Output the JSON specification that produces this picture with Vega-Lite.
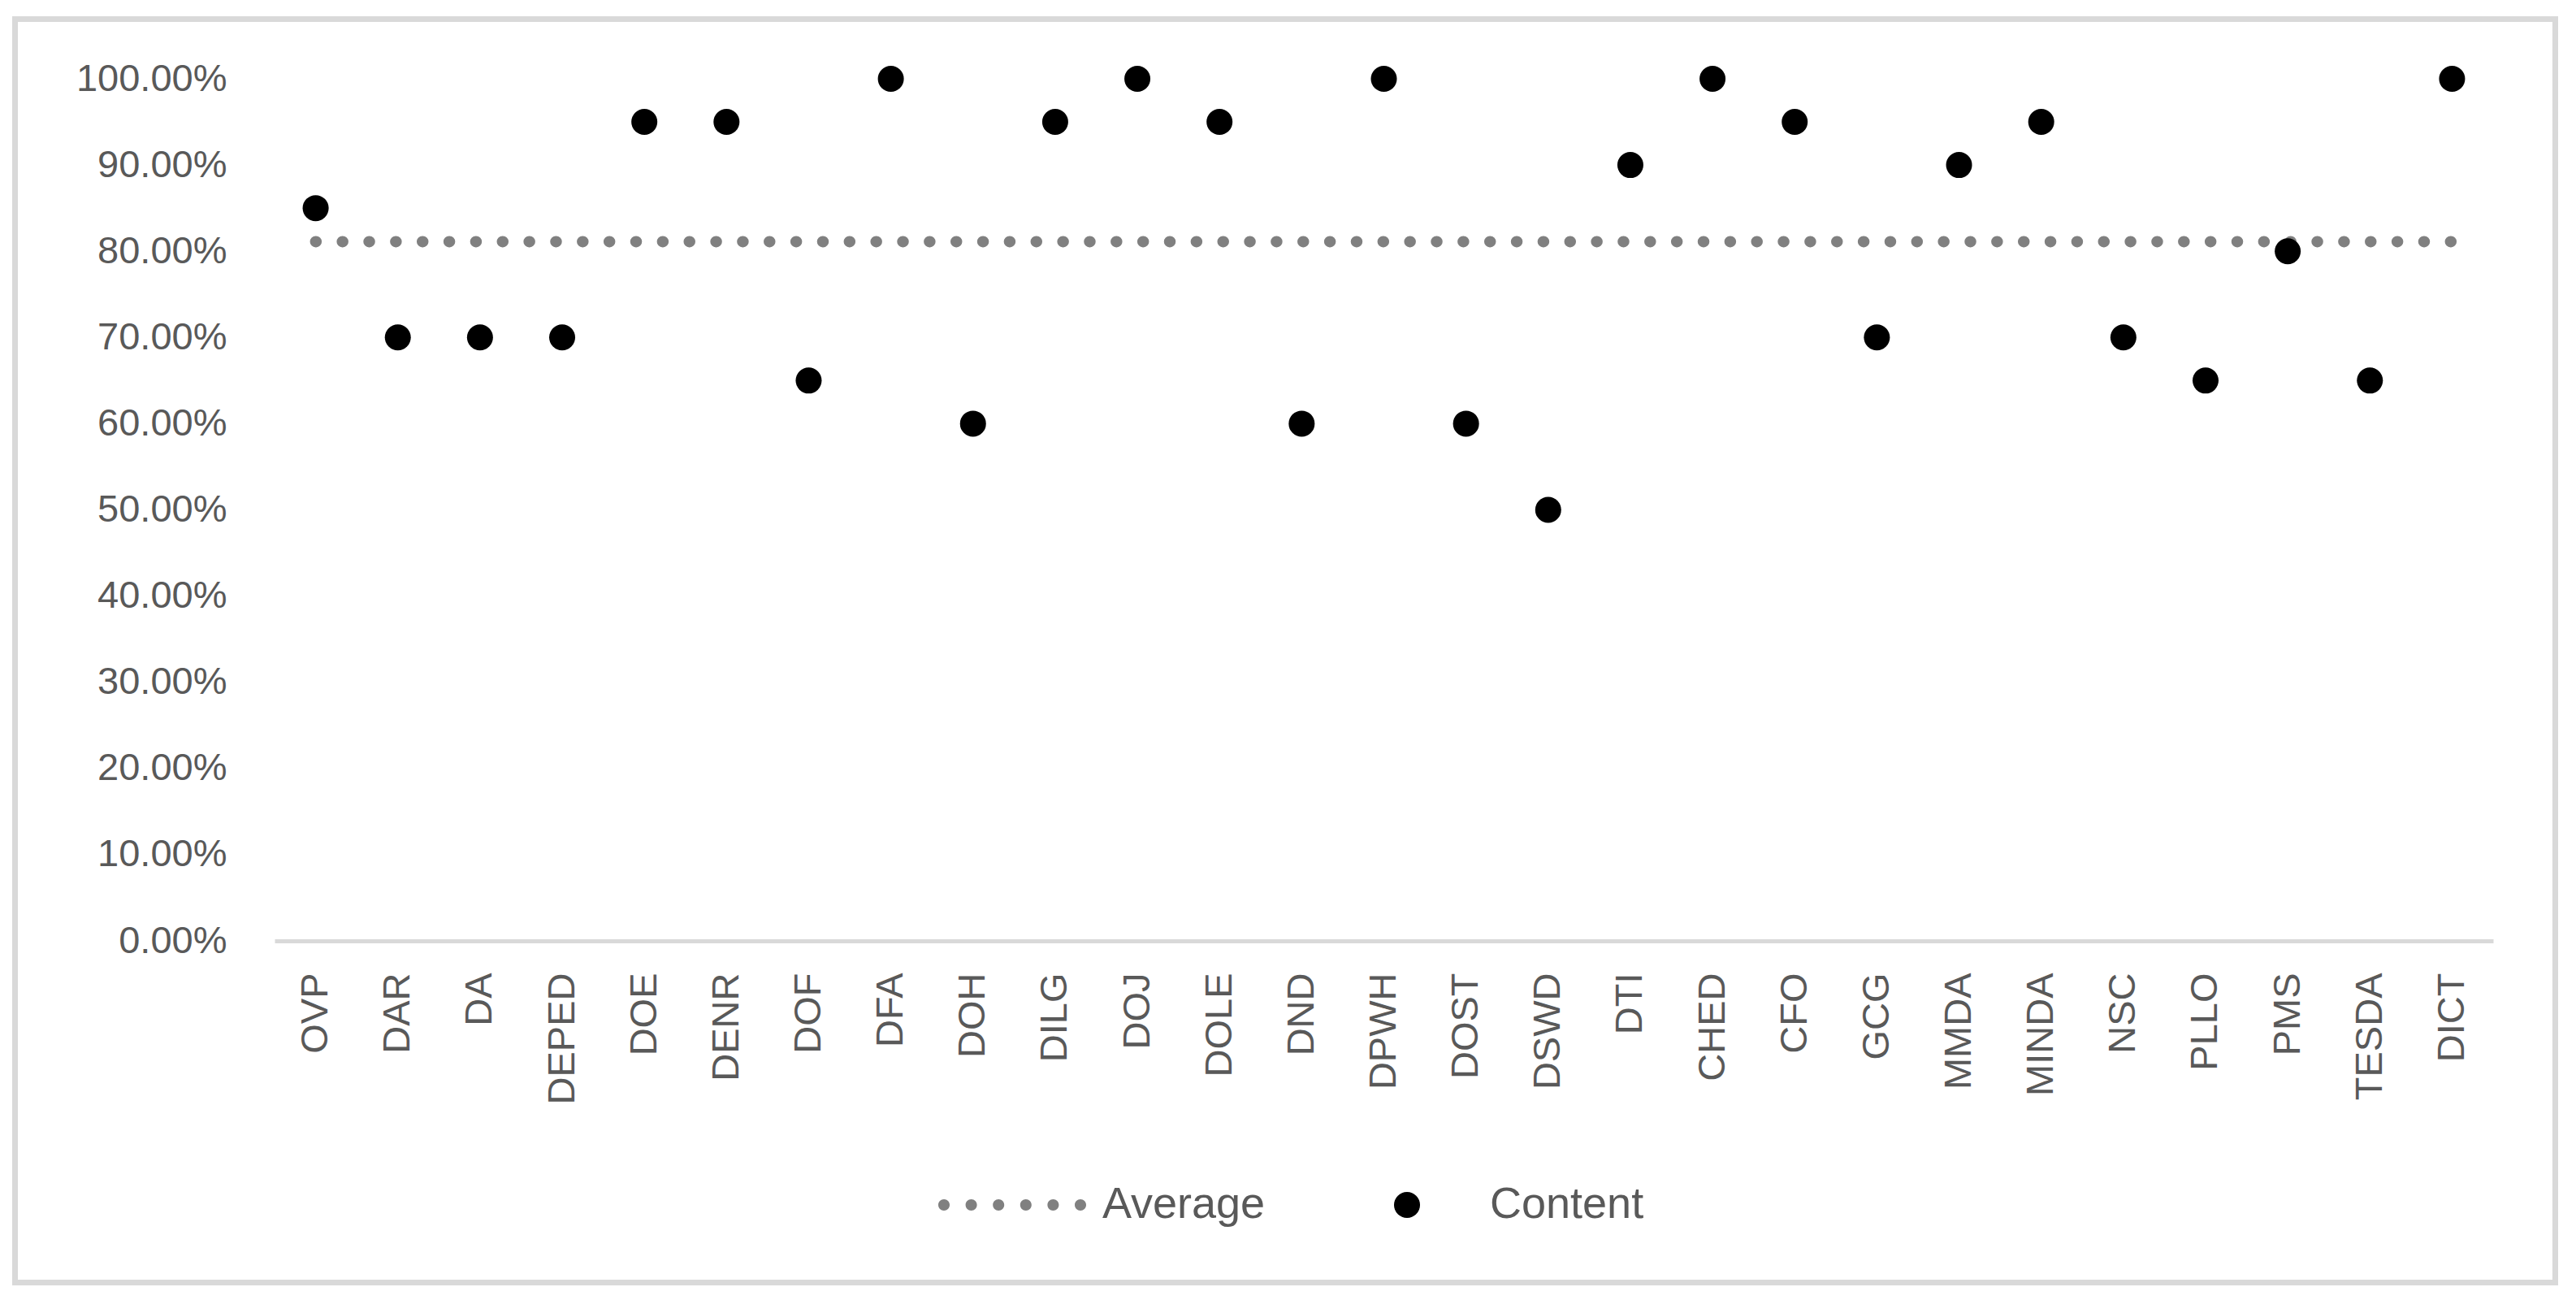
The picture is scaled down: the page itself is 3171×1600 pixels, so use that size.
{
  "$schema": "https://vega.github.io/schema/vega-lite/v6.json",
  "width": 3127,
  "height": 1555,
  "autosize": {"type": "none"},
  "padding": {"left": 18.5, "top": 23.5, "right": 25.5, "bottom": 21.5},
  "background": "#ffffff",
  "config": {
    "view": {"stroke": "#d9d9d9", "strokeWidth": 7},
    "font": "Liberation Sans"
  },
  "data": {
    "values": [
      {"Agency": "OVP", "Content": 0.85, "Average": 0.8111},
      {"Agency": "DAR", "Content": 0.70, "Average": 0.8111},
      {"Agency": "DA", "Content": 0.70, "Average": 0.8111},
      {"Agency": "DEPED", "Content": 0.70, "Average": 0.8111},
      {"Agency": "DOE", "Content": 0.95, "Average": 0.8111},
      {"Agency": "DENR", "Content": 0.95, "Average": 0.8111},
      {"Agency": "DOF", "Content": 0.65, "Average": 0.8111},
      {"Agency": "DFA", "Content": 1.00, "Average": 0.8111},
      {"Agency": "DOH", "Content": 0.60, "Average": 0.8111},
      {"Agency": "DILG", "Content": 0.95, "Average": 0.8111},
      {"Agency": "DOJ", "Content": 1.00, "Average": 0.8111},
      {"Agency": "DOLE", "Content": 0.95, "Average": 0.8111},
      {"Agency": "DND", "Content": 0.60, "Average": 0.8111},
      {"Agency": "DPWH", "Content": 1.00, "Average": 0.8111},
      {"Agency": "DOST", "Content": 0.60, "Average": 0.8111},
      {"Agency": "DSWD", "Content": 0.50, "Average": 0.8111},
      {"Agency": "DTI", "Content": 0.90, "Average": 0.8111},
      {"Agency": "CHED", "Content": 1.00, "Average": 0.8111},
      {"Agency": "CFO", "Content": 0.95, "Average": 0.8111},
      {"Agency": "GCG", "Content": 0.70, "Average": 0.8111},
      {"Agency": "MMDA", "Content": 0.90, "Average": 0.8111},
      {"Agency": "MINDA", "Content": 0.95, "Average": 0.8111},
      {"Agency": "NSC", "Content": 0.70, "Average": 0.8111},
      {"Agency": "PLLO", "Content": 0.65, "Average": 0.8111},
      {"Agency": "PMS", "Content": 0.80, "Average": 0.8111},
      {"Agency": "TESDA", "Content": 0.65, "Average": 0.8111},
      {"Agency": "DICT", "Content": 1.00, "Average": 0.8111}
    ]
  },
  "encoding": {
    "x": {
      "field": "Agency",
      "type": "nominal",
      "sort": null,
      "scale": {"range": [319.5, 3050.5], "paddingInner": 0, "paddingOuter": 0},
      "axis": {
        "title": null,
        "labelAngle": -90,
        "ticks": false,
        "tickSize": 0,
        "grid": false,
        "domainColor": "#d9d9d9",
        "domainWidth": 5,
        "labelFont": "Liberation Sans",
        "labelFontSize": 47,
        "labelColor": "#595959",
        "labelPadding": 39,
        "labelLimit": 0,
        "offset": -420.5
      }
    }
  },
  "layer": [
    {
      "mark": {"type": "line", "strokeWidth": 14, "strokeCap": "round", "strokeDash": [0.5, 32.35]},
      "encoding": {
        "y": {
          "field": "Average",
          "type": "quantitative",
          "scale": {"domain": [0, 1], "range": [1134.5, 73.5], "nice": false, "zero": false},
          "axis": {
            "title": null,
            "values": [0, 0.1, 0.2, 0.3, 0.4, 0.5, 0.6, 0.7, 0.8, 0.9, 1],
            "format": ".2%",
            "grid": false,
            "ticks": false,
            "tickSize": 0,
            "domain": false,
            "labelFont": "Liberation Sans",
            "labelFontSize": 47,
            "labelColor": "#595959",
            "labelPadding": 0,
            "labelLimit": 0,
            "offset": -260.5
          }
        },
        "order": {"value": null},
        "stroke": {
          "datum": "Average",
          "scale": {"domain": ["Average"], "range": ["#808080"]},
          "legend": {
            "orient": "none",
            "legendX": 1143.5,
            "legendY": 1375.5,
            "direction": "horizontal",
            "title": null,
            "padding": 0,
            "symbolType": "M-1.0833,0a0.0833,0.0833 0 1,0 0.1667,0a0.0833,0.0833 0 1,0 -0.1667,0ZM-0.6833,0a0.0833,0.0833 0 1,0 0.1667,0a0.0833,0.0833 0 1,0 -0.1667,0ZM-0.2833,0a0.0833,0.0833 0 1,0 0.1667,0a0.0833,0.0833 0 1,0 -0.1667,0ZM0.1167,0a0.0833,0.0833 0 1,0 0.1667,0a0.0833,0.0833 0 1,0 -0.1667,0ZM0.5167,0a0.0833,0.0833 0 1,0 0.1667,0a0.0833,0.0833 0 1,0 -0.1667,0ZM0.9167,0a0.0833,0.0833 0 1,0 0.1667,0a0.0833,0.0833 0 1,0 -0.1667,0Z",
            "symbolSize": 28224,
            "symbolFillColor": "#808080",
            "symbolStrokeWidth": 0,
            "labelFont": "Liberation Sans",
            "labelFontSize": 54,
            "labelColor": "#595959",
            "labelOffset": 27,
            "labelLimit": 0
          }
        }
      }
    },
    {
      "mark": {"type": "point", "filled": true, "size": 1024, "strokeWidth": 0, "opacity": 1},
      "encoding": {
        "y": {
          "field": "Content",
          "type": "quantitative",
          "axis": {
            "title": null,
            "values": [0, 0.1, 0.2, 0.3, 0.4, 0.5, 0.6, 0.7, 0.8, 0.9, 1],
            "format": ".2%",
            "grid": false,
            "ticks": false,
            "tickSize": 0,
            "domain": false,
            "labelFont": "Liberation Sans",
            "labelFontSize": 47,
            "labelColor": "#595959",
            "labelPadding": 0,
            "labelLimit": 0,
            "offset": -260.5
          }
        },
        "fill": {
          "datum": "Content",
          "scale": {"domain": ["Content"], "range": ["#000000"]},
          "legend": {
            "orient": "none",
            "legendX": 1686.5,
            "legendY": 1432.5,
            "direction": "horizontal",
            "title": null,
            "padding": 0,
            "symbolType": "circle",
            "symbolSize": 1024,
            "symbolStrokeWidth": 0,
            "labelFont": "Liberation Sans",
            "labelFontSize": 54,
            "labelColor": "#595959",
            "labelOffset": 75,
            "labelLimit": 0
          }
        }
      }
    }
  ]
}
